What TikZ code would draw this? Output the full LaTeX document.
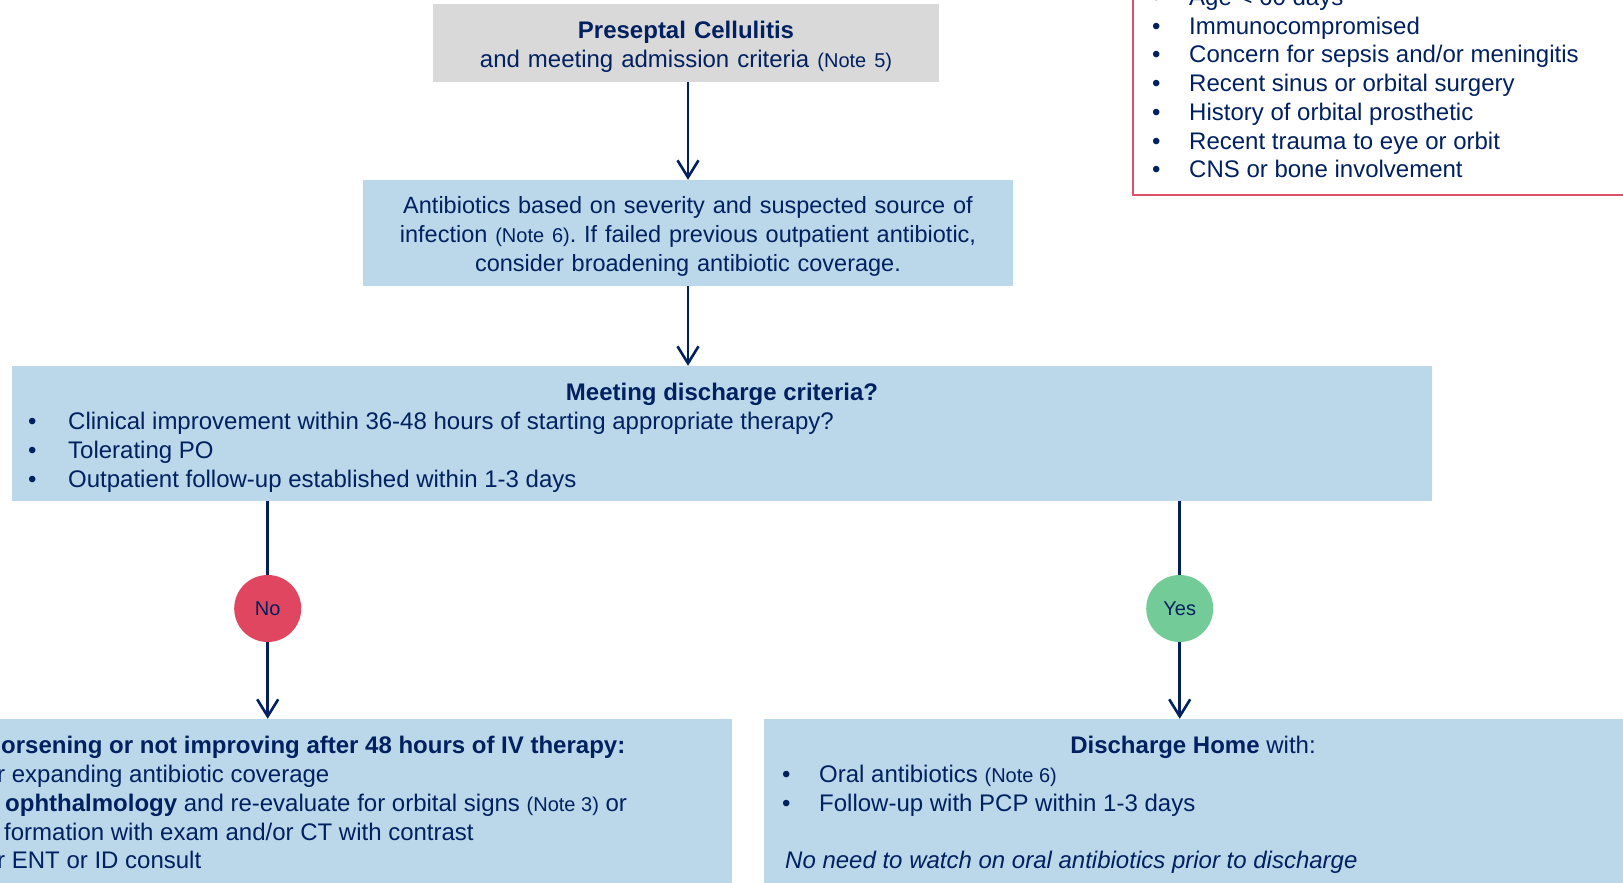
\documentclass[tikz,border=0pt]{standalone}
\usepackage{fontspec}
\setmainfont{Liberation Sans}
\usetikzlibrary{arrows.meta}
\definecolor{navy}{HTML}{002060}
\definecolor{boxblue}{HTML}{BAD8EA}
\definecolor{boxgray}{HTML}{D9D9D9}
\definecolor{nored}{HTML}{E0465F}
\definecolor{yesgreen}{HTML}{73CC98}
\definecolor{redline}{HTML}{E0506A}
\newcommand{\notesz}{\fontsize{20}{24}\selectfont}
\frenchspacing
\begin{document}
\begin{tikzpicture}[x=1pt,y=-1pt,
  box/.style={draw=none, inner sep=0pt, align=center, text=navy, font=\fontsize{24}{28.8}\selectfont},
  panel/.style={fill=boxblue, draw=none, inner sep=0pt},
  txt/.style={anchor=base west, inner sep=0pt, text=navy, font=\fontsize{24}{28.8}\selectfont},
  flow/.style={draw=navy, line width=2.6pt, -{Straight Barb[length=17pt,width=21pt,line width=2.6pt]}},
  conn/.style={draw=navy, line width=2.6pt},
  decision/.style={circle, minimum size=67pt, inner sep=0pt, text=navy, font=\fontsize{20}{24}\selectfont}]
\useasboundingbox (0,0) rectangle (1623,883);

% red criteria box (cut off)
\draw[redline, line width=2pt] (1133,-20) rectangle (1650,195);
\foreach \yy/\lbl in {5.6/{Age < 60 days}, 34.3/{Immunocompromised}, 63/{Concern for sepsis and/or meningitis}, 91.7/{Recent sinus or orbital surgery}, 120.4/{History of orbital prosthetic}, 149.1/{Recent trauma to eye or orbit}, 177.8/{CNS or bone involvement}}{
  \node[txt] at (1152,\yy) {•};
  \node[txt] at (1189,\yy) {\lbl};
}

% top boxes
\node[panel, fill=boxgray, minimum width=506pt, minimum height=78pt] (start) at (686,43) {};
\node[box, text width=500pt] (starttext) at (686,47)
  {\textbf{Preseptal Cellulitis}\\and meeting admission criteria {\notesz(Note 5)}};
\node[panel, minimum width=650pt, minimum height=106pt] (abx) at (688,233) {};
\node[box, text width=640pt, font=\fontsize{23.5}{28.8}\selectfont] (abxtext) at (688,236.6)
  {Antibiotics based on severity and suspected source of\\infection {\notesz(Note 6)}. If failed previous outpatient antibiotic,\\consider broadening antibiotic coverage.};

% discharge criteria
\node[panel, minimum width=1420pt, minimum height=135pt] (crit) at (722,433.5) {};
\node[txt, anchor=base] (crittitle) at (722,400) {\textbf{Meeting discharge criteria?}};
\foreach \yy/\lbl in {429.4/{Clinical improvement within 36-48 hours of starting appropriate therapy?}, 458.2/{Tolerating PO}, 487/{Outpatient follow-up established within 1-3 days}}{
  \node[txt] at (28,\yy) {•};
  \node[txt] at (68,\yy) {\lbl};
}

% bottom panels
\node[panel, minimum width=752pt, minimum height=181pt] (worse) at (356,809.5) {};
\node[panel, minimum width=876pt, minimum height=181pt] (home) at (1202,809.5) {};

% decisions
\node[decision, fill=nored] (no) at (267.7,608.5) {No};
\node[decision, fill=yesgreen] (yes) at (1179.7,608.5) {Yes};

% connectors
\draw[flow] (start.south -| abx.north) -- (abx.north);
\draw[flow] (abx.south) -- (abx.south |- crit.north);
\draw[conn] (crit.south -| no.north) -- (no.north);
\draw[flow] (no.south) -- (no.south |- worse.north);
\draw[conn] (crit.south -| yes.north) -- (yes.north);
\draw[flow] (yes.south) -- (yes.south |- home.north);

% bottom-left text (cut off)
\node[txt] at (1,753.6) {\textbf{orsening or not improving after 48 hours of IV therapy:}};
\node[txt] at (-3,782.4) {r expanding antibiotic coverage};
\node[txt] at (5,811.2) {\textbf{ophthalmology} and re-evaluate for orbital signs {\notesz(Note 3)} or};
\node[txt] at (4,840) {formation with exam and/or CT with contrast};
\node[txt] at (-3,868.8) {r ENT or ID consult};

% bottom-right text
\node[txt, anchor=base] at (1193,753.6) {\textbf{Discharge Home} with:};
\node[txt] at (782,782.4) {•};
\node[txt] at (819,782.4) {Oral antibiotics {\notesz(Note 6)}};
\node[txt] at (782,811.2) {•};
\node[txt] at (819,811.2) {Follow-up with PCP within 1-3 days};
\node[txt] at (785,868.8) {\itshape No need to watch on oral antibiotics prior to discharge};
\end{tikzpicture}
\end{document}
